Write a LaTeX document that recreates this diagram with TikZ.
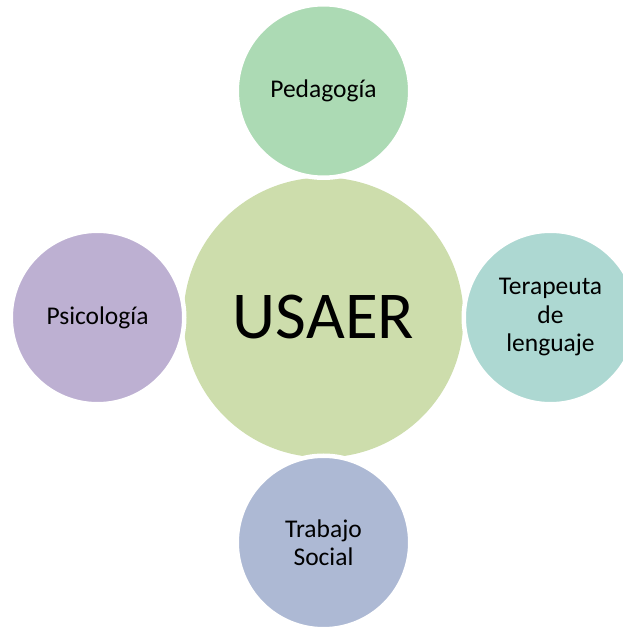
\documentclass[tikz,border=0pt]{standalone}
\usepackage{fontspec}
\setmainfont{Carlito}
\usetikzlibrary{positioning}
\definecolor{usaergreen}{RGB}{205,221,172}
\definecolor{pedgreen}{RGB}{172,218,180}
\definecolor{teralblue}{RGB}{173,216,210}
\definecolor{trabblue}{RGB}{173,185,212}
\definecolor{psicpurple}{RGB}{189,176,210}
\tikzset{
    hub/.style={circle, fill=usaergreen, minimum size=280pt, inner sep=0pt,
        font=\fontsize{67}{70}\selectfont},
    area/.style={circle, draw=white, line width=4.5pt, minimum size=173.5pt,
        inner sep=0pt, align=center, font=\fontsize{25.5}{28.5}\selectfont}
}
\begin{document}
\begin{tikzpicture}[x=1pt, y=1pt, node distance=226pt, on grid]
        \useasboundingbox (0, 0) rectangle (623, 630);
        % centre
        \node[hub] (usaer) at (323.5, 312.5) {USAER};
        % areas around it
        \node[area, fill=pedgreen, above=226.5pt of usaer] (ped) {Pedagogía};
        \node[area, fill=psicpurple, left=of usaer] (psic) {Psicología};
        \node[area, fill=teralblue, right=227pt of usaer] (tera) {Terapeuta\\de\\lenguaje};
        \node[area, fill=trabblue, below=225pt of usaer] (trab) {Trabajo\\Social};
    \end{tikzpicture}
\end{document}
